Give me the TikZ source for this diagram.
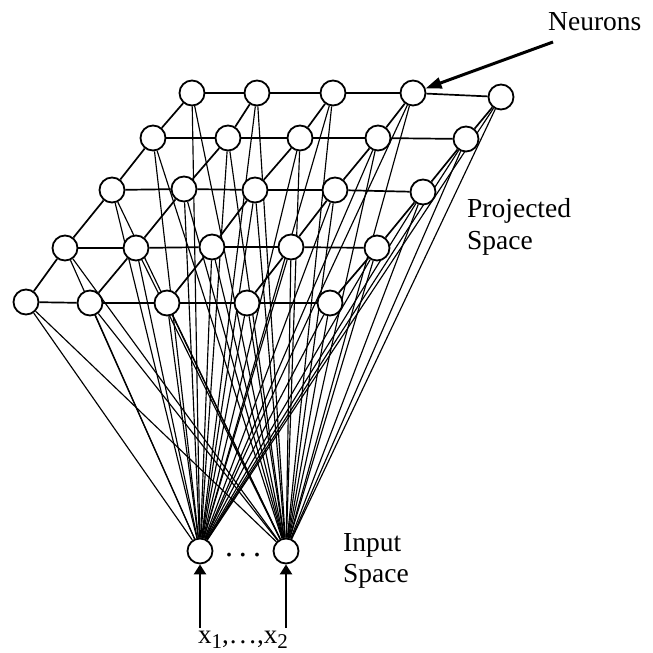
\documentclass[tikz,border=0pt]{standalone}
\usepackage{fontspec}
\setmainfont{Liberation Serif}
\usetikzlibrary{arrows.meta,backgrounds}
\begin{document}
\begin{tikzpicture}[x=1pt,y=-1pt,
  neuron/.style={circle,draw,line width=1.8pt,fill=white,minimum size=25pt,inner sep=0pt},
  gridline/.style={line width=1.7pt},
  link/.style={line width=1.15pt},
  lbl/.style={font=\fontsize{27.5}{27.5}\selectfont,inner sep=0pt,anchor=base west},
  inarrow/.style={line width=2.8pt,-{Triangle[length=10pt,width=12pt]}},
  ptr/.style={line width=3pt,-{Triangle[length=16pt,width=11pt]}}
]
\useasboundingbox (0,0) rectangle (653,653);
% projected space neurons (row, column)
\node[neuron] (n11) at (192,93) {};
\node[neuron] (n12) at (257,93) {};
\node[neuron] (n13) at (333,93) {};
\node[neuron] (n14) at (413,93) {};
\node[neuron] (n15) at (501,97) {};
\node[neuron] (n21) at (153,138) {};
\node[neuron] (n22) at (228,138) {};
\node[neuron] (n23) at (300,138) {};
\node[neuron] (n24) at (378,138) {};
\node[neuron] (n25) at (466,139) {};
\node[neuron] (n31) at (112,190) {};
\node[neuron] (n32) at (184,189) {};
\node[neuron] (n33) at (255,190) {};
\node[neuron] (n34) at (335,190) {};
\node[neuron] (n35) at (423,192) {};
\node[neuron] (n41) at (65,248) {};
\node[neuron] (n42) at (136,248) {};
\node[neuron] (n43) at (212,247) {};
\node[neuron] (n44) at (291,247) {};
\node[neuron] (n45) at (377,248) {};
\node[neuron] (n51) at (26,302) {};
\node[neuron] (n52) at (90,303) {};
\node[neuron] (n53) at (167,303) {};
\node[neuron] (n54) at (247,303) {};
\node[neuron] (n55) at (330,303) {};
% input neurons
\node[neuron] (in1) at (200,551) {};
\node[neuron] (in2) at (286,551) {};
\node[font=\fontsize{32}{32}\selectfont,inner sep=0pt,anchor=base] (dots) at (243,556)
  {.\hspace{6pt}.\hspace{6pt}.};
% connectors behind the neurons
\begin{scope}[on background layer]
  \foreach \r in {1,...,5}{
    \foreach \c [evaluate=\c as \d using int(\c+1)] in {1,...,4}{
      \draw[gridline] (n\r\c) -- (n\r\d);
    }
  }
  \foreach \r [evaluate=\r as \s using int(\r+1)] in {1,...,4}{
    \foreach \c in {1,...,5}{
      \draw[gridline] (n\r\c) -- (n\s\c);
    }
  }
  \foreach \r in {1,...,5}{
    \foreach \c in {1,...,5}{
      \draw[link] (n\r\c) -- (in1);
      \draw[link] (n\r\c) -- (in2);
    }
  }
\end{scope}
% pointer to neurons
\coordinate (ntail) at (553,42);
\draw[ptr] (ntail) -- (n14);
% input arrows
\coordinate (a1) at (200,628);
\coordinate (a2) at (286,628);
\draw[inarrow] (a1) -- (in1);
\draw[inarrow] (a2) -- (in2);
% labels
\node[lbl] (neurons) at (548,30) {Neurons};
\node[lbl] (proj1) at (467,217) {Projected};
\node[lbl] (proj2) at (467,249) {Space};
\node[lbl] (inp1) at (343,551) {Input};
\node[lbl] (inp2) at (343,582) {Space};
\node[font=\fontsize{27}{27}\selectfont,inner sep=0pt,anchor=base] (xlab) at (243,643)
  {x\raisebox{-5pt}{\fontsize{21}{21}\selectfont 1},\hspace{1pt}.\hspace{3pt}.\hspace{3pt}.\hspace{1pt},x\raisebox{-5pt}{\fontsize{21}{21}\selectfont 2}};
\end{tikzpicture}
\end{document}
